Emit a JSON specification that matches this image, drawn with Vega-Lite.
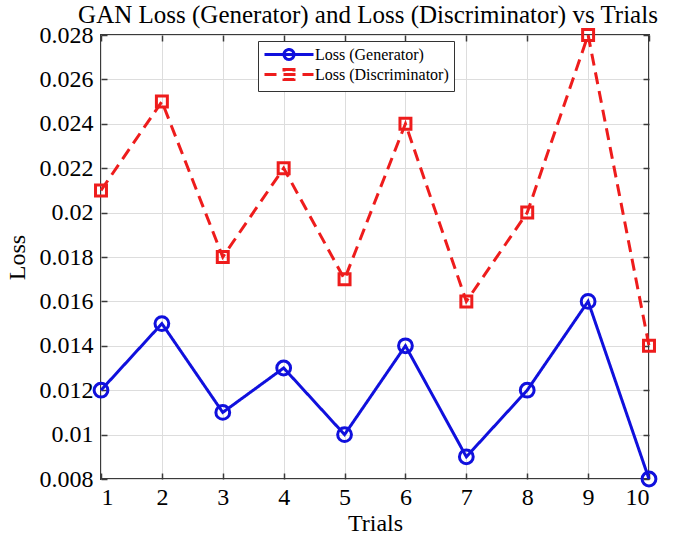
{
  "$schema": "https://vega.github.io/schema/vega-lite/v6.json",
  "autosize": "none",
  "width": 548,
  "height": 444,
  "padding": {"left": 101, "top": 35, "right": 25, "bottom": 61},
  "background": "white",
  "title": {"text": "GAN Loss (Generator) and Loss (Discriminator) vs Trials", "font": "Liberation Serif", "fontSize": 25, "fontWeight": "normal", "color": "black", "anchor": "middle", "frame": "group", "offset": 5, "dy": 10, "dx": -7},
  "config": {
    "view": {"stroke": "#3a3a3a", "strokeWidth": 2},
    "axis": {"labelFont": "Liberation Serif", "titleFont": "Liberation Serif", "labelFontSize": 24, "titleFontSize": 24, "titleFontWeight": "normal", "labelColor": "black", "titleColor": "black", "domain": false, "tickColor": "#3a3a3a", "tickWidth": 1.5, "tickSize": -6, "gridColor": "#dddddd", "gridWidth": 1}
  },
  "data": {"values": [
    {"trial": 1, "series": "Loss (Generator)", "loss": 0.012},
    {"trial": 2, "series": "Loss (Generator)", "loss": 0.015},
    {"trial": 3, "series": "Loss (Generator)", "loss": 0.011},
    {"trial": 4, "series": "Loss (Generator)", "loss": 0.013},
    {"trial": 5, "series": "Loss (Generator)", "loss": 0.010},
    {"trial": 6, "series": "Loss (Generator)", "loss": 0.014},
    {"trial": 7, "series": "Loss (Generator)", "loss": 0.009},
    {"trial": 8, "series": "Loss (Generator)", "loss": 0.012},
    {"trial": 9, "series": "Loss (Generator)", "loss": 0.016},
    {"trial": 10, "series": "Loss (Generator)", "loss": 0.008},
    {"trial": 1, "series": "Loss (Discriminator)", "loss": 0.021},
    {"trial": 2, "series": "Loss (Discriminator)", "loss": 0.025},
    {"trial": 3, "series": "Loss (Discriminator)", "loss": 0.018},
    {"trial": 4, "series": "Loss (Discriminator)", "loss": 0.022},
    {"trial": 5, "series": "Loss (Discriminator)", "loss": 0.017},
    {"trial": 6, "series": "Loss (Discriminator)", "loss": 0.024},
    {"trial": 7, "series": "Loss (Discriminator)", "loss": 0.016},
    {"trial": 8, "series": "Loss (Discriminator)", "loss": 0.020},
    {"trial": 9, "series": "Loss (Discriminator)", "loss": 0.028},
    {"trial": 10, "series": "Loss (Discriminator)", "loss": 0.014}
  ]},
  "resolve": {"axis": {"x": "independent", "y": "independent"}},
  "layer": [
    {
      "mark": {"type": "line", "strokeWidth": 3},
      "encoding": {
        "x": {"field": "trial", "type": "quantitative", "scale": {"domain": [1, 10], "nice": false, "zero": false}, "axis": {"orient": "bottom", "title": "Trials", "values": [1,2,3,4,5,6,7,8,9,10], "labelPadding": 12, "titlePadding": 2, "grid": true}},
        "y": {"field": "loss", "type": "quantitative", "scale": {"domain": [0.008, 0.028], "nice": false, "zero": false}, "axis": {"orient": "left", "title": "Loss", "values": [0.008,0.01,0.012,0.014,0.016,0.018,0.02,0.022,0.024,0.026,0.028], "format": "~g", "labelPadding": 14, "titlePadding": 10, "grid": true}},
        "color": {"field": "series", "type": "nominal", "sort": ["Loss (Generator)", "Loss (Discriminator)"], "scale": {"domain": ["Loss (Generator)", "Loss (Discriminator)"], "range": ["#1010dd", "#ee1c1c"]}, "legend": {
          "orient": "none", "legendX": 157, "legendY": 6, "title": null, "direction": "vertical",
          "labelFont": "Liberation Serif", "labelFontSize": 16, "labelColor": "black", "labelOffset": 35,
          "symbolSize": 196, "symbolStrokeWidth": 3, "rowPadding": -4, "padding": 5,
          "strokeColor": "#333333", "fillColor": "white",
          "encode": {"symbols": {"update": {
            "shape": {"signal": "datum.value === 'Loss (Generator)' ? 'M-1,0H6M1.786,0A0.714,0.714 0 1,1 3.214,0A0.714,0.714 0 1,1 1.786,0Z' : 'M-1,0H6M1.786,-0.714H3.214V0.714H1.786Z'"},
            "fill": {"value": "transparent"}
          }}}
        }},
        "strokeDash": {"field": "series", "type": "nominal", "sort": ["Loss (Generator)", "Loss (Discriminator)"], "scale": {"domain": ["Loss (Generator)", "Loss (Discriminator)"], "range": [[1, 0], [12, 7]]}, "legend": null}
      }
    },
    {
      "transform": [{"filter": "datum.series === 'Loss (Generator)'"}],
      "mark": {"type": "point", "shape": "circle", "size": 190, "filled": false, "strokeWidth": 3, "opacity": 1, "color": "#1010dd"},
      "encoding": {
        "x": {"field": "trial", "type": "quantitative", "axis": null},
        "y": {"field": "loss", "type": "quantitative", "axis": null}
      }
    },
    {
      "transform": [{"filter": "datum.series === 'Loss (Discriminator)'"}],
      "mark": {"type": "point", "shape": "square", "size": 120, "filled": false, "strokeWidth": 3, "opacity": 1, "color": "#ee1c1c"},
      "encoding": {
        "x": {"field": "trial", "type": "quantitative", "axis": null},
        "y": {"field": "loss", "type": "quantitative", "axis": null}
      }
    },
    {
      "mark": {"type": "point", "opacity": 0},
      "encoding": {
        "x": {"field": "trial", "type": "quantitative", "axis": {"orient": "top", "title": null, "labels": false, "values": [1,2,3,4,5,6,7,8,9,10], "grid": false}},
        "y": {"field": "loss", "type": "quantitative", "axis": {"orient": "right", "title": null, "labels": false, "values": [0.008,0.01,0.012,0.014,0.016,0.018,0.02,0.022,0.024,0.026,0.028], "grid": false}}
      }
    }
  ]
}
